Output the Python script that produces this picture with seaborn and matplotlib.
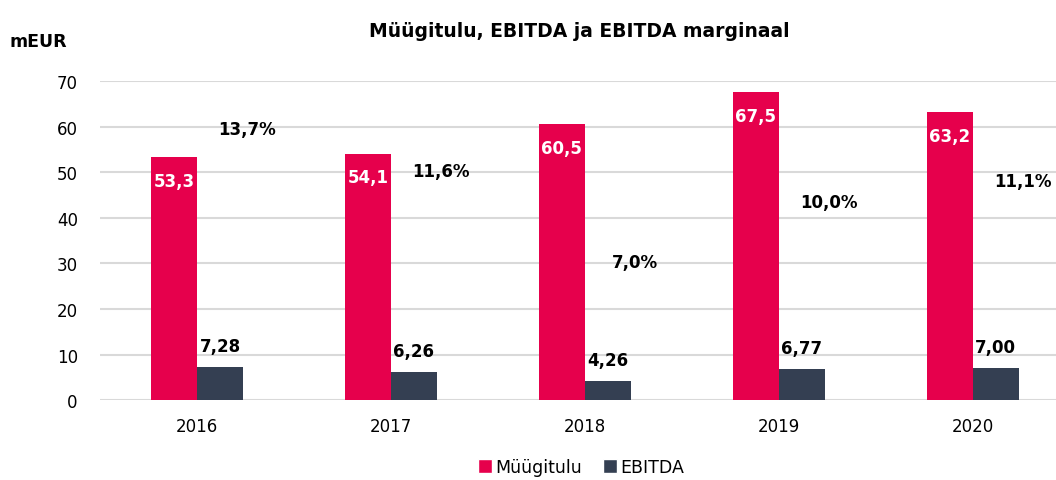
from matplotlib import pyplot as plt
from matplotlib.patches import Patch
import seaborn as sns
import pandas as pd

years = ["2016", "2017", "2018", "2019", "2020"]
revenue = [53.3, 54.1, 60.5, 67.5, 63.2]
ebitda = [7.28, 6.26, 4.26, 6.77, 7.00]
margin = [13.7, 11.6, 7.0, 10.0, 11.1]

series_names = ["Müügitulu", "EBITDA"]
colors = ["#E6004C", "#343F52"]

df = pd.DataFrame({
    "year": years * 2,
    "value": revenue + ebitda,
    "series": [series_names[0]] * len(years) + [series_names[1]] * len(years),
})

sns.set_style("white")
plt.rcParams["font.family"] = ["DejaVu Sans"]
plt.rcParams["text.color"] = "black"
plt.rcParams["xtick.color"] = "black"
plt.rcParams["ytick.color"] = "black"

fig = plt.figure(figsize=(10.56, 4.81), dpi=100)
ax = fig.add_axes([0.0947, 0.166, 0.9053, 0.6635])

sns.barplot(data=df, x="year", y="value", hue="series", palette=colors,
            width=0.475, saturation=1, linewidth=0, ax=ax, legend=False,
            zorder=3)

ax.set_ylim(0, 70)
ax.set_xlim(-0.5, 4.43)
ax.set_yticks(range(0, 71, 10))
ax.yaxis.grid(True, color="#D9D9D9", linewidth=1.5, zorder=0)
ax.set_axisbelow(True)
for s in ax.spines.values():
    s.set_visible(False)
ax.tick_params(axis="both", length=0, labelsize=12, labelcolor="black")
ax.tick_params(axis="x", pad=12)
ax.tick_params(axis="y", pad=16)
ax.set_xlabel("")
ax.set_ylabel("")

# bar value labels
red_bars = ax.containers[0]
dark_bars = ax.containers[1]
for bar, v in zip(red_bars, revenue):
    ax.annotate(f"{v:.1f}".replace(".", ","),
                (bar.get_x() + bar.get_width() / 2, bar.get_height()),
                xytext=(0, -17), textcoords="offset points",
                ha="center", va="center", color="white",
                fontsize=12, fontweight="bold")
for bar, v in zip(dark_bars, ebitda):
    ax.annotate(f"{v:.2f}".replace(".", ","),
                (bar.get_x() + bar.get_width() / 2, bar.get_height()),
                xytext=(0, 15), textcoords="offset points",
                ha="center", va="center", color="black",
                fontsize=12, fontweight="bold")

# EBITDA margin on a hidden secondary axis
ax2 = ax.twinx()
ax2.set_ylim(0, 16.13)
ax2.axis("off")
for i, m in enumerate(margin):
    ax2.text(i + 0.26, m, f"{m:.1f}%".replace(".", ","),
             ha="center", va="center", fontsize=12, fontweight="bold",
             color="black")

fig.text(0.549, 0.935, "Müügitulu, EBITDA ja EBITDA marginaal",
         ha="center", va="center", fontsize=13.5, fontweight="bold",
         color="black")
fig.text(0.009, 0.912, "mEUR", ha="left", va="center",
         fontsize=12.5, fontweight="bold", color="black")

handles = [Patch(facecolor=c, label=n) for c, n in zip(colors, series_names)]
fig.legend(handles=handles, loc="center", bbox_to_anchor=(0.55, 0.027),
           ncol=2, frameon=False, fontsize=12.5, handlelength=0.8,
           handleheight=0.8, handletextpad=0.2, columnspacing=1.2)

fig.savefig("out.png", dpi=100)
